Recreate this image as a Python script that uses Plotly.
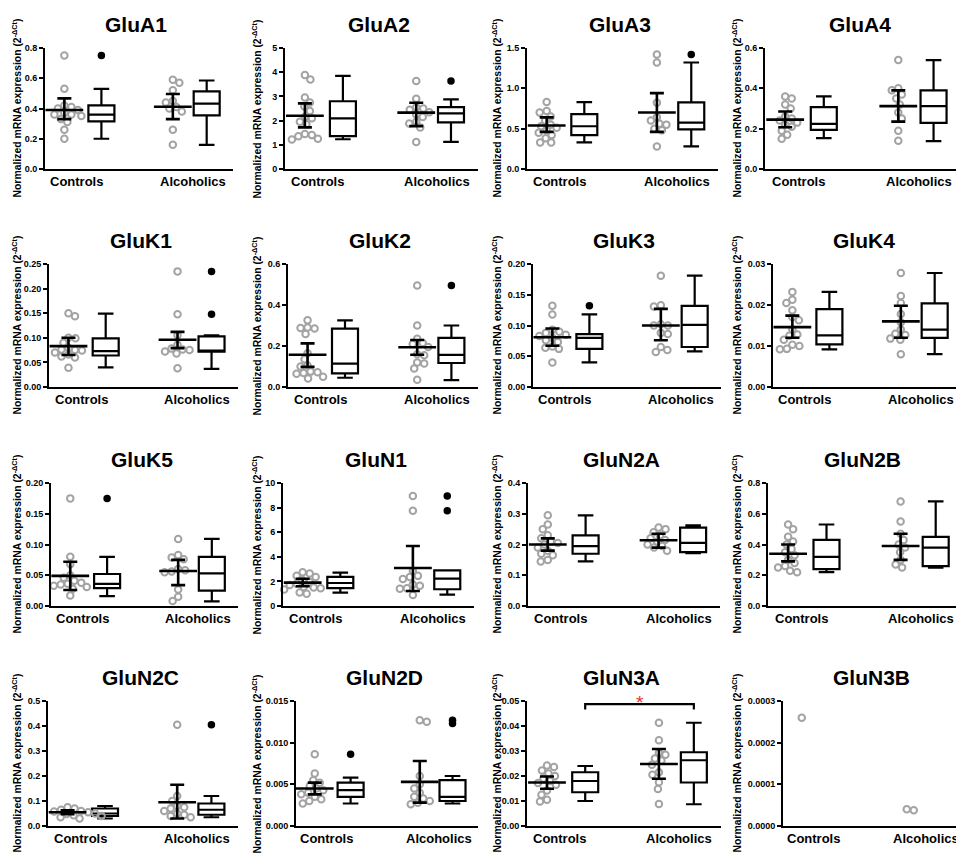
import numpy as np
import plotly.graph_objects as go

W, H = 964, 854
FONT = "Liberation Sans, Arial, sans-serif"

# ---------------- data ----------------
genes = ["GluA1", "GluA2", "GluA3", "GluA4",
         "GluK1", "GluK2", "GluK3", "GluK4",
         "GluK5", "GluN1", "GluN2A", "GluN2B",
         "GluN2C", "GluN2D", "GluN3A", "GluN3B"]
groups = ["Controls", "Alcoholics"]

y_max = [0.8, 5, 1.5, 0.6, 0.25, 0.6, 0.20, 0.03, 0.20, 10, 0.4, 0.8, 0.5, 0.015, 0.05, 0.0003]
y_step = [0.2, 1, 0.5, 0.2, 0.05, 0.2, 0.05, 0.01, 0.05, 2, 0.1, 0.2, 0.1, 0.005, 0.01, 0.0001]
y_fmt = [".1f", "d", ".1f", ".1f", ".2f", ".1f", ".2f", ".2f", ".2f", "d", ".1f", ".1f", ".1f", ".3f", ".2f", ".4f"]

GluA1_controls = [0.75, 0.53, 0.42, 0.41, 0.40, 0.39, 0.37, 0.36, 0.36, 0.35, 0.33, 0.31, 0.26, 0.20]
GluA1_alcoholics = [0.59, 0.57, 0.52, 0.45, 0.44, 0.41, 0.40, 0.38, 0.26, 0.16]
GluA2_controls = [3.88, 3.70, 2.95, 2.75, 2.58, 2.40, 2.15, 2.10, 1.95, 1.85, 1.45, 1.40, 1.35, 1.25, 1.22]
GluA2_alcoholics = [3.64, 2.90, 2.55, 2.50, 2.45, 2.35, 2.25, 2.15, 1.95, 1.88, 1.72, 1.12]
GluA3_controls = [0.83, 0.72, 0.70, 0.65, 0.60, 0.55, 0.53, 0.51, 0.48, 0.45, 0.42, 0.38, 0.33, 0.33]
GluA3_alcoholics = [1.42, 1.32, 0.82, 0.64, 0.60, 0.56, 0.55, 0.50, 0.48, 0.28]
GluA4_controls = [0.36, 0.35, 0.32, 0.30, 0.26, 0.25, 0.24, 0.23, 0.22, 0.21, 0.19, 0.17, 0.15]
GluA4_alcoholics = [0.54, 0.40, 0.39, 0.37, 0.35, 0.32, 0.28, 0.25, 0.19, 0.14]
GluK1_controls = [0.150, 0.144, 0.100, 0.099, 0.090, 0.080, 0.076, 0.075, 0.074, 0.070, 0.066, 0.062, 0.060, 0.039]
GluK1_alcoholics = [0.235, 0.148, 0.105, 0.086, 0.078, 0.076, 0.075, 0.072, 0.068, 0.038]
GluK2_controls = [0.325, 0.290, 0.288, 0.285, 0.258, 0.165, 0.135, 0.105, 0.100, 0.075, 0.072, 0.068, 0.065, 0.050, 0.042]
GluK2_alcoholics = [0.495, 0.300, 0.235, 0.215, 0.210, 0.195, 0.160, 0.155, 0.120, 0.115, 0.090, 0.035]
GluK3_controls = [0.132, 0.118, 0.093, 0.090, 0.088, 0.085, 0.083, 0.080, 0.076, 0.073, 0.066, 0.064, 0.062, 0.040]
GluK3_alcoholics = [0.181, 0.133, 0.131, 0.102, 0.100, 0.100, 0.088, 0.086, 0.065, 0.060, 0.057]
GluK4_controls = [0.0232, 0.0213, 0.0205, 0.0187, 0.0170, 0.0163, 0.0140, 0.0128, 0.0125, 0.0115, 0.0103, 0.0100, 0.0093, 0.0092]
GluK4_alcoholics = [0.0278, 0.0222, 0.0205, 0.0178, 0.0158, 0.0140, 0.0130, 0.0127, 0.0118, 0.0115, 0.0080]
GluK5_controls = [0.175, 0.080, 0.068, 0.050, 0.046, 0.041, 0.038, 0.036, 0.035, 0.033, 0.031, 0.028, 0.017]
GluK5_alcoholics = [0.109, 0.083, 0.079, 0.076, 0.060, 0.058, 0.056, 0.055, 0.027, 0.015, 0.008]
GluN1_controls = [2.75, 2.65, 2.45, 2.35, 2.10, 1.95, 1.80, 1.70, 1.55, 1.50, 1.45, 1.35, 1.10, 1.00]
GluN1_alcoholics = [8.95, 7.75, 2.85, 2.45, 2.35, 2.20, 1.75, 1.65, 1.45, 1.40, 0.90]
GluN2A_controls = [0.295, 0.265, 0.25, 0.23, 0.22, 0.21, 0.205, 0.20, 0.19, 0.18, 0.17, 0.165, 0.15, 0.145]
GluN2A_alcoholics = [0.255, 0.25, 0.24, 0.23, 0.22, 0.215, 0.21, 0.20, 0.195, 0.19, 0.18]
GluN2B_controls = [0.53, 0.50, 0.45, 0.42, 0.40, 0.37, 0.35, 0.33, 0.30, 0.28, 0.26, 0.25, 0.23, 0.22]
GluN2B_alcoholics = [0.68, 0.55, 0.47, 0.43, 0.40, 0.38, 0.35, 0.30, 0.27, 0.25]
GluN2C_controls = [0.075, 0.07, 0.065, 0.06, 0.058, 0.055, 0.053, 0.05, 0.048, 0.045, 0.043, 0.04, 0.035, 0.03]
GluN2C_alcoholics = [0.405, 0.12, 0.10, 0.08, 0.075, 0.07, 0.06, 0.05, 0.045, 0.04, 0.035]
GluN2D_controls = [0.0086, 0.0063, 0.0055, 0.0052, 0.0048, 0.0045, 0.0043, 0.0040, 0.0038, 0.0035, 0.0032, 0.0030, 0.0027]
GluN2D_alcoholics = [0.0127, 0.0125, 0.0060, 0.0050, 0.0045, 0.0040, 0.0035, 0.0033, 0.0030, 0.0028, 0.0026]
GluN3A_controls = [0.0242, 0.0236, 0.0222, 0.0210, 0.0200, 0.0190, 0.0180, 0.0172, 0.0165, 0.0142, 0.0125, 0.0105, 0.0098]
GluN3A_alcoholics = [0.0413, 0.0343, 0.0293, 0.0285, 0.0270, 0.0262, 0.0245, 0.0215, 0.0205, 0.0175, 0.0148, 0.0088]
GluN3B_controls = [0.00026]
GluN3B_alcoholics = [0.000038, 0.000040]

# mean with 95% CI (lo, hi)
ctrl_mean = [0.39, 2.20, 0.54, 0.245, 0.083, 0.157, 0.081, 0.0146, 0.049, 1.90, 0.200, 0.34, 0.055, 0.0045, 0.0174, None]
ctrl_ci_lo = [0.33, 1.72, 0.46, 0.207, 0.065, 0.098, 0.067, 0.0120, 0.026, 1.60, 0.180, 0.29, 0.047, 0.0038, 0.0149, None]
ctrl_ci_hi = [0.467, 2.71, 0.64, 0.285, 0.100, 0.213, 0.095, 0.0174, 0.072, 2.22, 0.220, 0.40, 0.063, 0.0052, 0.0198, None]
alc_mean = [0.412, 2.33, 0.70, 0.312, 0.096, 0.194, 0.100, 0.0160, 0.057, 3.09, 0.214, 0.39, 0.095, 0.0053, 0.0248, None]
alc_ci_lo = [0.33, 1.77, 0.46, 0.235, 0.079, 0.157, 0.076, 0.0120, 0.034, 1.22, 0.190, 0.30, 0.030, 0.0028, 0.0189, None]
alc_ci_hi = [0.496, 2.74, 0.94, 0.39, 0.112, 0.229, 0.127, 0.0198, 0.075, 4.88, 0.235, 0.47, 0.165, 0.0078, 0.0308, None]

# box plots: whisker low, q1, median, q3, whisker high
ctrl_wlo = [0.20, 1.23, 0.33, 0.153, 0.040, 0.045, 0.040, 0.0092, 0.016, 1.08, 0.145, 0.22, 0.03, 0.0027, 0.0100, None]
ctrl_q1 = [0.315, 1.36, 0.42, 0.194, 0.064, 0.066, 0.062, 0.0104, 0.029, 1.46, 0.17, 0.24, 0.04, 0.0035, 0.0135, None]
ctrl_med = [0.36, 2.09, 0.53, 0.224, 0.073, 0.114, 0.080, 0.0126, 0.036, 1.87, 0.195, 0.32, 0.05, 0.0043, 0.0180, None]
ctrl_q3 = [0.42, 2.80, 0.68, 0.307, 0.099, 0.285, 0.086, 0.0190, 0.052, 2.36, 0.23, 0.43, 0.07, 0.0052, 0.0215, None]
ctrl_whi = [0.53, 3.85, 0.83, 0.36, 0.149, 0.325, 0.118, 0.0232, 0.080, 2.72, 0.295, 0.53, 0.08, 0.0058, 0.0240, None]
alc_wlo = [0.16, 1.12, 0.28, 0.138, 0.037, 0.034, 0.058, 0.0080, 0.0075, 0.92, 0.172, 0.25, 0.035, 0.0027, 0.0087, None]
alc_q1 = [0.355, 1.93, 0.49, 0.229, 0.072, 0.117, 0.065, 0.0120, 0.025, 1.36, 0.175, 0.26, 0.045, 0.0030, 0.0174, None]
alc_med = [0.432, 2.30, 0.575, 0.312, 0.074, 0.157, 0.101, 0.0140, 0.053, 2.22, 0.205, 0.38, 0.065, 0.0035, 0.0263, None]
alc_q3 = [0.513, 2.56, 0.825, 0.39, 0.103, 0.24, 0.132, 0.0204, 0.080, 2.90, 0.255, 0.45, 0.09, 0.0055, 0.0295, None]
alc_whi = [0.585, 2.88, 1.32, 0.54, 0.105, 0.30, 0.181, 0.0278, 0.109, 2.90, 0.262, 0.68, 0.12, 0.0060, 0.0413, None]

ctrl_outliers = [[0.75], [], [], [], [], [], [0.132], [], [0.175], [], [], [], [], [0.0086], [], []]
alc_outliers = [[], [3.64], [1.42], [], [0.235, 0.148], [0.495], [], [], [], [8.95, 7.75], [], [], [0.405], [0.0127, 0.0123], [], []]

# significance (GluN3A, controls vs alcoholics)
sig_gene = "GluN3A"
sig_label = "*"

# ---------------- layout constants ----------------
controls_points = [GluA1_controls, GluA2_controls, GluA3_controls, GluA4_controls,
                   GluK1_controls, GluK2_controls, GluK3_controls, GluK4_controls,
                   GluK5_controls, GluN1_controls, GluN2A_controls, GluN2B_controls,
                   GluN2C_controls, GluN2D_controls, GluN3A_controls, GluN3B_controls]
alcoholics_points = [GluA1_alcoholics, GluA2_alcoholics, GluA3_alcoholics, GluA4_alcoholics,
                     GluK1_alcoholics, GluK2_alcoholics, GluK3_alcoholics, GluK4_alcoholics,
                     GluK5_alcoholics, GluN1_alcoholics, GluN2A_alcoholics, GluN2B_alcoholics,
                     GluN2C_alcoholics, GluN2D_alcoholics, GluN3A_alcoholics, GluN3B_alcoholics]

col_left = [0, 240, 480, 720]
row_top = [40, 256, 475, 693]
row_bot = [161, 379, 598, 818]
axis_left = [37, 37, 39, 37, 41, 40, 45, 45, 43, 35, 40, 40, 40, 48, 39, 55]
axis_right = [225, 230, 230, 233, 230, 230, 233, 233, 230, 226, 232, 235, 230, 230, 233, 237]

X_SCAT = (1.03, 6.8)
X_BOX = (3.0, 8.6)
X_LABEL = (1.7, 7.85)
XR = 10.0

GRAY = "#a3a3a3"


def swarm_offsets(vals, px_per_unit, diam=6.8, step=0.5):
    vals = list(vals)
    order = sorted(range(len(vals)), key=lambda i: -vals[i])
    placed = []
    offs = [0.0] * len(vals)
    for n, i in enumerate(order):
        y = vals[i] * px_per_unit
        best = None
        k = 0
        while best is None:
            mag = k * step
            signs = (1, -1) if n % 2 else (-1, 1)
            for s in signs:
                x = s * mag
                if all((x - px) ** 2 + (y - py) ** 2 >= diam ** 2 for px, py in placed):
                    best = x
                    break
            k += 1
        placed.append((best, y))
        offs[i] = best
    return offs


fig = go.Figure()
annotations = []
shapes = []
layout_axes = {}

for i, g in enumerate(genes):
    r, c = divmod(i, 4)
    lpx = col_left[c] + axis_left[i]
    rpx = col_left[c] + axis_right[i]
    tpx, bpx = row_top[r], row_bot[r]
    Lpx = rpx - lpx
    unit_per_px = XR / Lpx
    px_per_y = (bpx - tpx) / y_max[i]
    sfx = "" if i == 0 else str(i + 1)
    xa, ya = "x" + sfx, "y" + sfx

    layout_axes["xaxis" + sfx] = dict(
        domain=[lpx / W, rpx / W], range=[0, XR], anchor=ya,
        showline=True, linecolor="black", linewidth=2, mirror=False,
        showticklabels=False, ticks="",
        showgrid=False, zeroline=False, fixedrange=True,
    )
    layout_axes["yaxis" + sfx] = dict(
        domain=[1 - bpx / H, 1 - tpx / H], range=[0, y_max[i]], anchor=xa,
        showline=True, linecolor="black", linewidth=2,
        tick0=0, dtick=y_step[i], tickformat=y_fmt[i],
        ticks="outside", ticklen=4, tickwidth=1.5, tickcolor="black",
        tickfont=dict(family=FONT, size=9, color="black", weight="bold"),
        showgrid=False, zeroline=False, fixedrange=True,
    )

    groups_data = [
        (controls_points[i], ctrl_mean[i], ctrl_ci_lo[i], ctrl_ci_hi[i],
         ctrl_wlo[i], ctrl_q1[i], ctrl_med[i], ctrl_q3[i], ctrl_whi[i], ctrl_outliers[i]),
        (alcoholics_points[i], alc_mean[i], alc_ci_lo[i], alc_ci_hi[i],
         alc_wlo[i], alc_q1[i], alc_med[i], alc_q3[i], alc_whi[i], alc_outliers[i]),
    ]
    for gi, (pts, mn, lo, hi, wlo, q1, med, q3, whi, outl) in enumerate(groups_data):
        offs = swarm_offsets(pts, px_per_y)
        fig.add_trace(go.Scatter(
            x=[X_SCAT[gi] + o * unit_per_px for o in offs], y=pts,
            mode="markers", xaxis=xa, yaxis=ya, showlegend=False, hoverinfo="skip",
            cliponaxis=False,
            marker=dict(symbol="circle-open", size=6.5, color=GRAY, line=dict(width=2, color=GRAY)),
        ))
        if mn is not None:
            fig.add_trace(go.Scatter(
                x=[X_SCAT[gi]], y=[mn], mode="markers", xaxis=xa, yaxis=ya,
                showlegend=False, hoverinfo="skip", cliponaxis=False,
                marker=dict(symbol="line-ew", size=27, color="black",
                            line=dict(width=2.6, color="black")),
                error_y=dict(type="data", symmetric=False, array=[hi - mn], arrayminus=[mn - lo],
                             color="black", thickness=2.6, width=7),
            ))
        if q1 is not None:
            fig.add_trace(go.Box(
                x=[X_BOX[gi]], q1=[q1], median=[med], q3=[q3],
                lowerfence=[wlo], upperfence=[whi],
                width=26 * unit_per_px, whiskerwidth=0.6,
                fillcolor="white", line=dict(color="black", width=2.2),
                boxpoints=False, xaxis=xa, yaxis=ya, showlegend=False, hoverinfo="skip",
            ))
        if outl:
            fig.add_trace(go.Scatter(
                x=[X_BOX[gi]] * len(outl), y=outl, mode="markers", xaxis=xa, yaxis=ya,
                showlegend=False, hoverinfo="skip", cliponaxis=False,
                marker=dict(symbol="circle", size=7.5, color="black"),
            ))

    # category labels under the x axis
    for gi, name in enumerate(groups):
        annotations.append(dict(
            text=name, x=X_LABEL[gi], xref=xa, y=1 - (bpx + 3) / H, yref="paper",
            showarrow=False, xanchor="center", yanchor="top",
            font=dict(family=FONT, size=13, color="black", weight="bold"),
        ))
    # panel title
    annotations.append(dict(
        text=g, x=(lpx + rpx) / 2 / W - 3 / W, y=1 - (tpx - 24) / H, xref="paper", yref="paper",
        showarrow=False, xanchor="center", yanchor="middle",
        font=dict(family=FONT, size=21, color="black", weight="bold"),
    ))
    # y-axis title
    annotations.append(dict(
        text="Normalized mRNA expression (2<sup>-ΔCt</sup>)",
        x=(col_left[c] + 8) / W, y=1 - ((tpx + bpx) / 2) / H, xref="paper", yref="paper",
        showarrow=False, textangle=-90, xanchor="center", yanchor="middle",
        font=dict(family=FONT, size=10.4, color="black", weight="bold"),
    ))

    if g == sig_gene:
        top = y_max[i]
        y_hi = top * 0.975
        y_lo = top * 0.932
        shapes.append(dict(
            type="path", xref=xa, yref=ya,
            path=f"M {X_BOX[0]},{y_lo} L {X_BOX[0]},{y_hi} L {X_BOX[1]},{y_hi} L {X_BOX[1]},{y_lo}",
            line=dict(color="black", width=2.2),
        ))
        annotations.append(dict(
            text=sig_label, x=(X_BOX[0] + X_BOX[1]) / 2, xref=xa,
            y=1 - (tpx + 1) / H, yref="paper",
            showarrow=False, xanchor="center", yanchor="middle",
            font=dict(family=FONT, size=19, color="#e8302a"),
        ))

fig.update_layout(
    width=W, height=H, margin=dict(l=0, r=0, t=0, b=0),
    template="none", paper_bgcolor="white", plot_bgcolor="white",
    font=dict(family=FONT, color="black"),
    showlegend=False, annotations=annotations, shapes=shapes,
    **layout_axes,
)

fig.write_html("out.html")
